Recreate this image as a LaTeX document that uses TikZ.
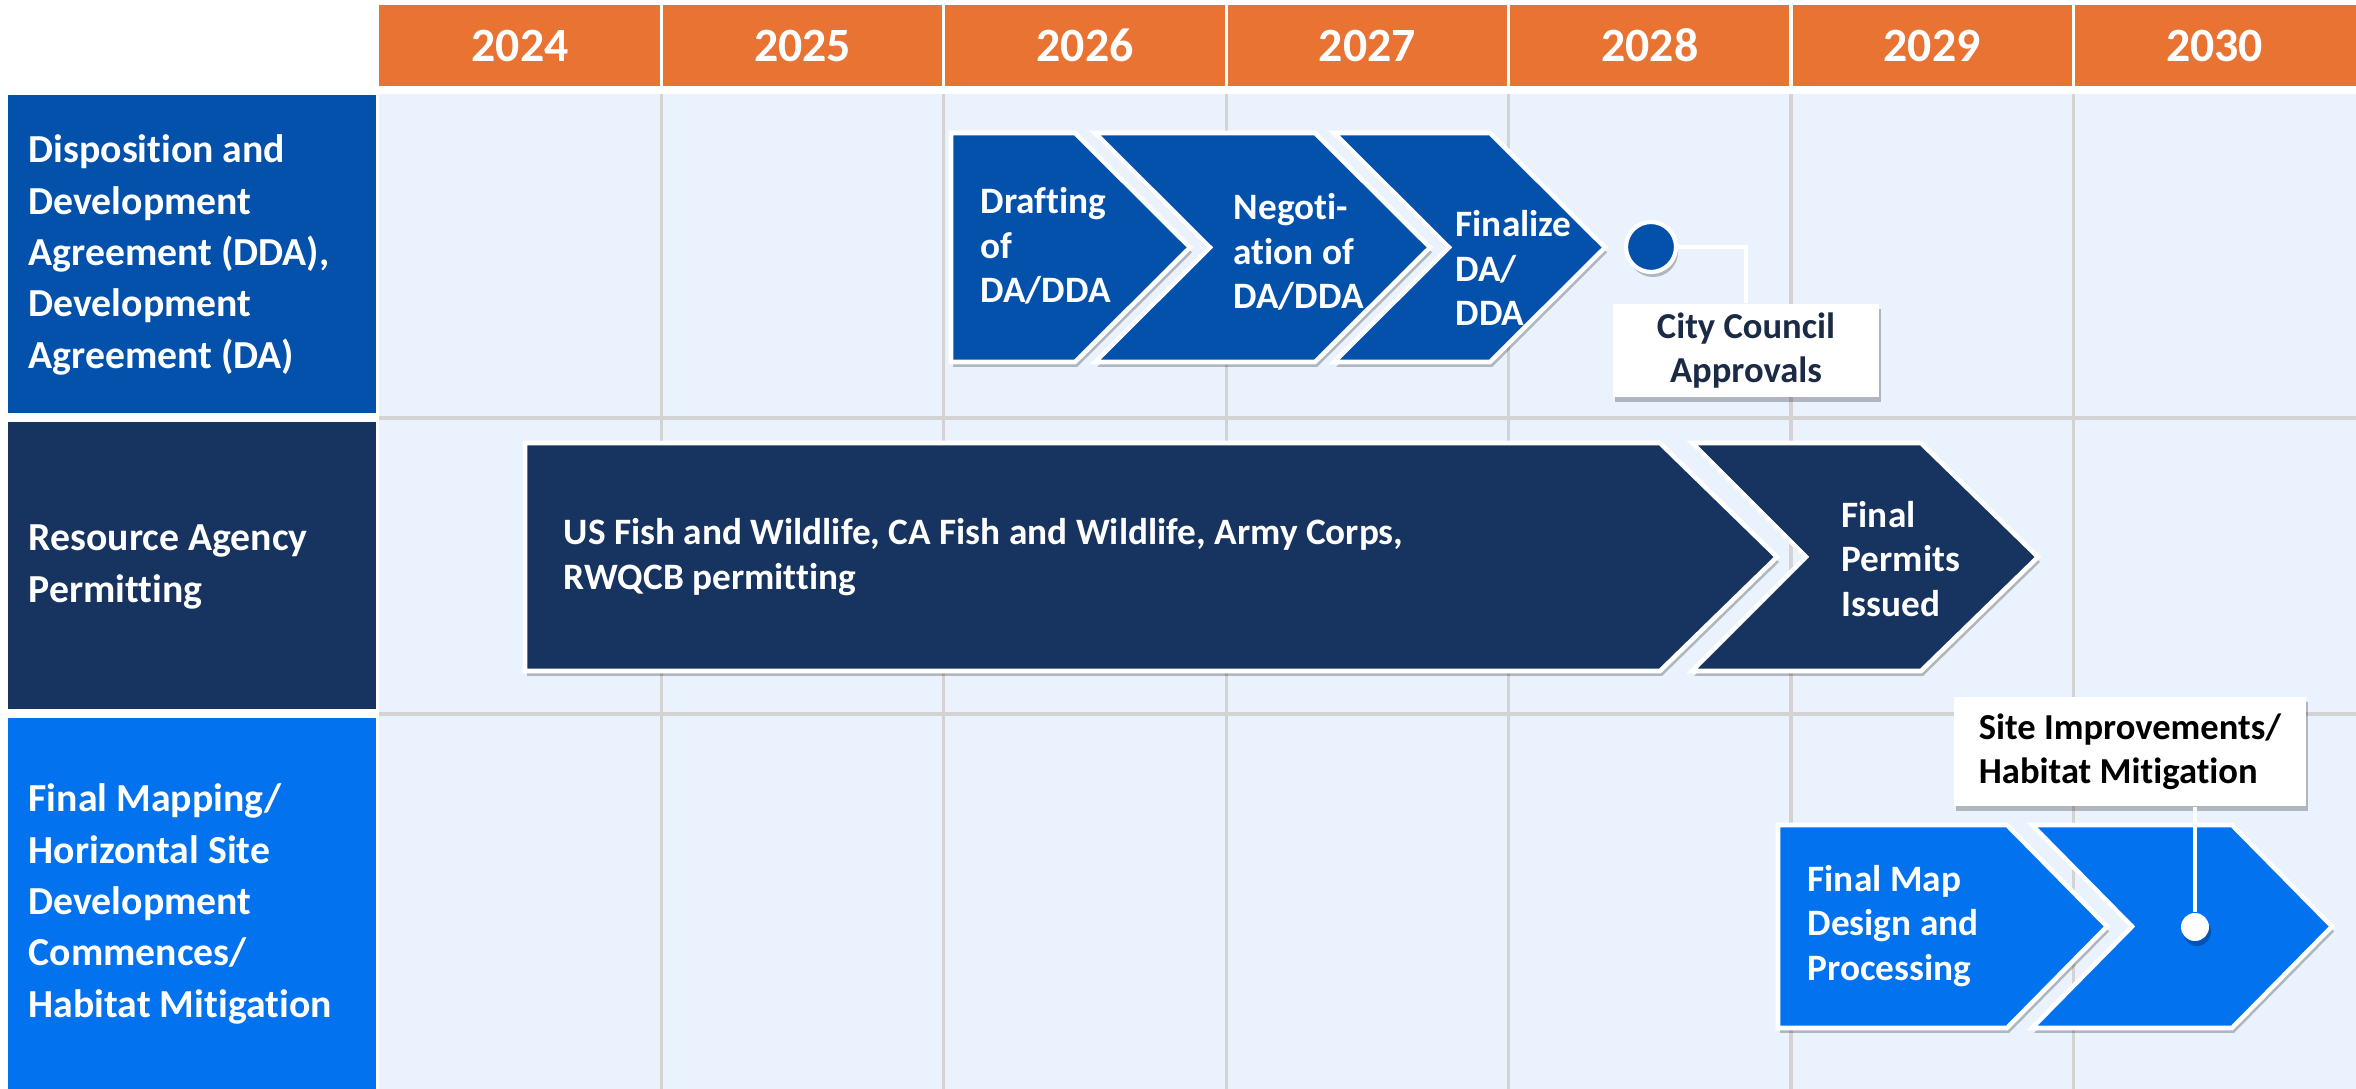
\documentclass[tikz,border=0pt]{standalone}
\usepackage{fontspec}
\setmainfont{Carlito}[Ligatures=NoCommon]
\usepackage{tikz}
\usetikzlibrary{positioning,shadows,calc}

\definecolor{hdrorange}{HTML}{E87333}
\definecolor{gridbg}{HTML}{EAF3FD}
\definecolor{gridline}{HTML}{D3D3D3}
\definecolor{ddablue}{HTML}{0351AB}
\definecolor{navy}{HTML}{17335F}
\definecolor{brightblue}{HTML}{0272EE}
\definecolor{cctext}{HTML}{1B2A45}

\begin{document}
\begin{tikzpicture}[x=0.01cm, y=-0.01cm,
  every node/.style={font=\bfseries, inner sep=0pt},
  year/.style={text=white, font=\fontsize{13.6}{15}\selectfont\bfseries},
  rowlabel/.style={text=white, align=left, anchor=west, font=\fontsize{11.3}{14.6}\selectfont\bfseries},
  chevtext/.style={text=white, align=left, anchor=west, font=\fontsize{10.6}{12.6}\selectfont\bfseries},
  softshadow/.style={drop shadow={shadow xshift=0.02cm, shadow yshift=-0.05cm, fill=black, opacity=0.25}},
  chev/.style={draw=white, line width=1.3pt, line join=miter, softshadow},
  callout/.style={fill=white, softshadow, font=\fontsize{10.4}{12.6}\selectfont\bfseries},
  gridrule/.style={gridline, line width=0.9pt},
  link/.style={white, line width=0.9pt}]
  \useasboundingbox (0,0) rectangle (2356,1089);

  % year header
  \fill[hdrorange] (379,5) rectangle (2356,86);
  \foreach \yr [count=\i from 0] in {2024,...,2030}
    \node[year] (y\yr) at ({379+282.4*(\i+0.5)},45.5) {\yr};
  \foreach \i in {1,...,6}
    \draw[white, line width=0.9pt] ({379+282.4*\i},5) -- ({379+282.4*\i},86);

  % grid
  \fill[gridbg] (379,94) rectangle (2356,1089);
  \foreach \i in {1,...,6}
    \draw[gridrule] ({379+282.4*\i},94) -- ({379+282.4*\i},1089);
  \foreach \yy in {418,714}
    \draw[gridrule] (379,\yy) -- (2356,\yy);

  % row labels
  \fill[ddablue] (8,95) rectangle (376,413);
  \fill[navy] (8,422) rectangle (376,709);
  \fill[brightblue] (8,718) rectangle (376,1089);
  \node[rowlabel] (dda) at (28,255) {Disposition and\\Development\\Agreement (DDA),\\Development\\Agreement (DA)};
  \node[rowlabel] (rap) at (28,567) {Resource Agency\\Permitting};
  \node[rowlabel] (fmap) at (28,904) {Final Mapping/\\Horizontal Site\\Development\\Commences/\\Habitat Mitigation};

  % chevrons
  \foreach \l/\r/\t/\b/\d/\n/\c in {951/1075/133/362/115/0/ddablue,
      1095/1315/133/362/115/115/ddablue, 1334/1490/133/362/115/115/ddablue,
      525/1660/443/671/117/0/navy, 1692/1921/443/671/117/114/navy,
      1778/2007/825/1028/100/0/brightblue, 2032/2232/825/1028/100/100/brightblue}
    \filldraw[chev, fill=\c] (\l,\t) -- (\r,\t) -- ({\r+\d},{(\t+\b)/2}) -- (\r,\b)
      -- (\l,\b) -- ({\l+\n},{(\t+\b)/2}) -- cycle;

  \node[chevtext] (draft) at (980,246) {Drafting\\of\\DA/DDA};
  \node[chevtext] (negot) at (1233,252) {Negoti-\\ation of\\DA/DDA};
  \node[chevtext] (final) at (1455,268) {Finalize\\DA/\\DDA};
  \node[chevtext] (usfw) at (563,557) {US Fish and Wildlife, CA Fish and Wildlife, Army Corps,\\RWQCB permitting};
  \node[chevtext] (permit) at (1841,559) {Final\\Permits\\Issued};
  \node[chevtext] (fmdes) at (1807,926) {Final Map\\Design and\\Processing};

  % milestones
  \node[circle, minimum size=0.5cm, fill=ddablue, draw=white, line width=1.2pt, softshadow] (ccdot) at (1651,247) {};
  \node[circle, minimum size=0.28cm, fill=white, softshadow] (sidot) at (2195,927) {};
  \node[callout, minimum width=2.66cm, minimum height=0.93cm, text=cctext, align=center] (ccbox) at (1746,350.5) {City Council\\Approvals};
  \node[callout, minimum width=3.52cm, minimum height=1.09cm, text=black, align=left] (sibox) at (2130,751.5) {Site Improvements/\\Habitat Mitigation};
  \draw[link] (ccdot.east) -| (ccbox.north);
  \draw[link] (sidot) -- (sidot |- sibox.south);
\end{tikzpicture}
\end{document}
